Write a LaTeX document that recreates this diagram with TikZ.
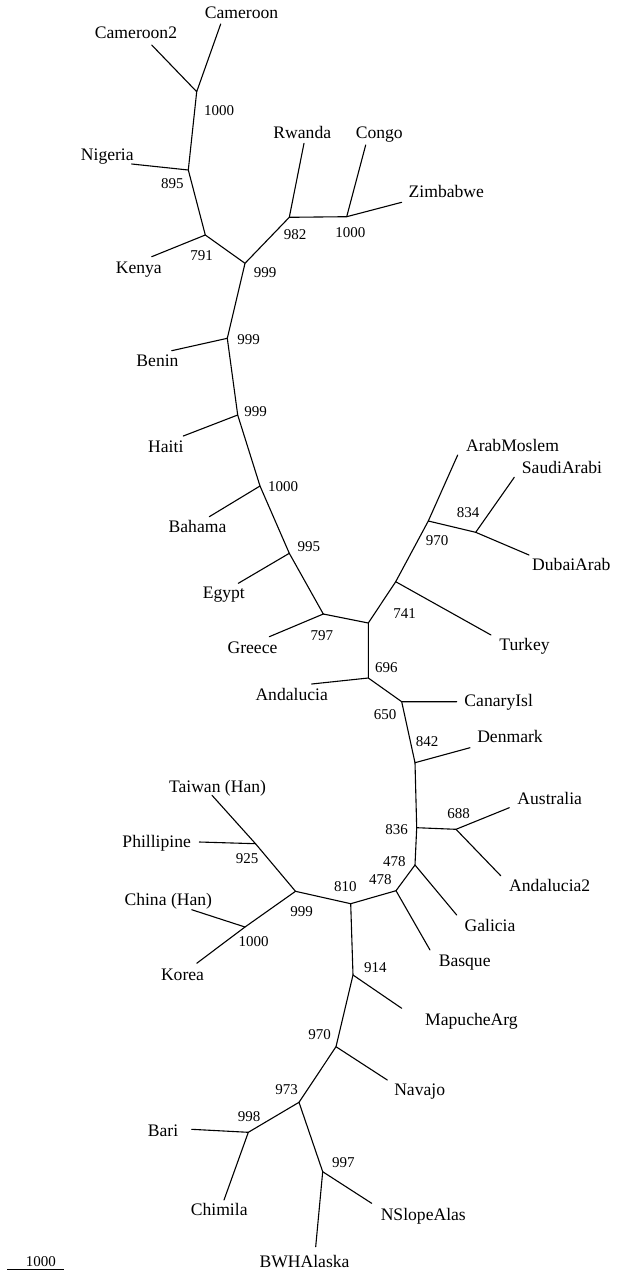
\documentclass[tikz,border=0pt]{standalone}
\usepackage{fontspec}
\setmainfont{Liberation Serif}
\begin{document}
\begin{tikzpicture}[x=1pt,y=-1pt,
  br/.style={line width=1.1pt,line cap=round,line join=round},
  leaf/.style={inner sep=0pt,anchor=base,font=\fontsize{17.6}{20}\selectfont},
  bs/.style={inner sep=0pt,anchor=base,font=\fontsize{15}{17}\selectfont}]
\useasboundingbox (0,0) rectangle (619,1272);
% internal nodes
\coordinate (nCam) at (196.7,91.7);
\coordinate (nNig) at (188.3,170);
\coordinate (nKen) at (205.3,235);
\coordinate (nA) at (245,263.3);
\coordinate (nRw) at (289.3,217.3);
\coordinate (nCo) at (346.7,216.7);
\coordinate (nBen) at (227.3,338.3);
\coordinate (nHai) at (237.7,415);
\coordinate (nBah) at (260,486);
\coordinate (nEgy) at (289.3,553.3);
\coordinate (nGre) at (323.3,614);
\coordinate (nX) at (368.3,623);
\coordinate (n741) at (395.7,581.7);
\coordinate (n970) at (428.3,521);
\coordinate (n834) at (475.7,532.3);
\coordinate (n696) at (368.3,678);
\coordinate (n650) at (401.7,701.7);
\coordinate (n842) at (415,762.7);
\coordinate (n836) at (416.7,827.7);
\coordinate (n688) at (456,829.3);
\coordinate (n478a) at (415,865);
\coordinate (n478b) at (396,890.7);
\coordinate (n810) at (350.7,903.7);
\coordinate (n999b) at (295.5,891.3);
\coordinate (n925) at (255.5,843.7);
\coordinate (n1000c) at (245,927);
\coordinate (n914) at (353,975);
\coordinate (n970b) at (336,1046.7);
\coordinate (n973) at (299,1102.3);
\coordinate (n998) at (248.3,1132.3);
\coordinate (n997) at (322.7,1171.7);
% leaf tips
\coordinate (tCam) at (220.7,24);
\coordinate (tCam2) at (151.7,45);
\coordinate (tNig) at (131.7,164);
\coordinate (tKen) at (151.7,256.7);
\coordinate (tRw) at (304,143.3);
\coordinate (tCo) at (365.7,145);
\coordinate (tZim) at (401.7,202.3);
\coordinate (tBen) at (171.7,350.7);
\coordinate (tHai) at (183.3,436);
\coordinate (tBah) at (209.3,516.7);
\coordinate (tEgy) at (238.3,583.3);
\coordinate (tGre) at (269.3,636.7);
\coordinate (tAM) at (457.7,455);
\coordinate (tSA) at (514.3,477.3);
\coordinate (tDA) at (529,555);
\coordinate (tTur) at (491,635);
\coordinate (tAnd) at (311.7,684);
\coordinate (tCan) at (456.7,701.7);
\coordinate (tDen) at (470,747.7);
\coordinate (tAus) at (509.3,807.7);
\coordinate (tAnd2) at (500.7,875.7);
\coordinate (tGal) at (456.7,915);
\coordinate (tBas) at (430,950);
\coordinate (tTai) at (212,795.3);
\coordinate (tPhi) at (199.3,842);
\coordinate (tChi) at (191.7,909.7);
\coordinate (tKor) at (196.7,963.3);
\coordinate (tMap) at (401.7,1008.3);
\coordinate (tNav) at (387.3,1080);
\coordinate (tBari) at (191.7,1129.3);
\coordinate (tChim) at (224,1200);
\coordinate (tNSA) at (371.7,1203.3);
\coordinate (tBWH) at (315.7,1246.7);
% branches
\draw[br] (tCam) -- (nCam) -- (tCam2);
\draw[br] (nCam) -- (nNig) -- (tNig);
\draw[br] (nNig) -- (nKen) -- (tKen);
\draw[br] (nKen) -- (nA) -- (nRw) -- (tRw);
\draw[br] (nRw) -- (nCo) -- (tCo);
\draw[br] (nCo) -- (tZim);
\draw[br] (nA) -- (nBen) -- (tBen);
\draw[br] (nBen) -- (nHai) -- (tHai);
\draw[br] (nHai) -- (nBah) -- (tBah);
\draw[br] (nBah) -- (nEgy) -- (tEgy);
\draw[br] (nEgy) -- (nGre) -- (tGre);
\draw[br] (nGre) -- (nX) -- (n741) -- (tTur);
\draw[br] (n741) -- (n970) -- (tAM);
\draw[br] (n970) -- (n834) -- (tSA);
\draw[br] (n834) -- (tDA);
\draw[br] (nX) -- (n696) -- (tAnd);
\draw[br] (n696) -- (n650) -- (tCan);
\draw[br] (n650) -- (n842) -- (tDen);
\draw[br] (n842) -- (n836) -- (n688) -- (tAus);
\draw[br] (n688) -- (tAnd2);
\draw[br] (n836) -- (n478a) -- (tGal);
\draw[br] (n478a) -- (n478b) -- (tBas);
\draw[br] (n478b) -- (n810) -- (n999b) -- (n925) -- (tTai);
\draw[br] (n925) -- (tPhi);
\draw[br] (n999b) -- (n1000c) -- (tChi);
\draw[br] (n1000c) -- (tKor);
\draw[br] (n810) -- (n914) -- (tMap);
\draw[br] (n914) -- (n970b) -- (tNav);
\draw[br] (n970b) -- (n973) -- (n998) -- (tBari);
\draw[br] (n998) -- (tChim);
\draw[br] (n973) -- (n997) -- (tNSA);
\draw[br] (n997) -- (tBWH);
% leaf labels
\node[leaf] (lCam) at (241.5,18.5) {Cameroon};
\node[leaf] (lCam2) at (136,38.5) {Cameroon2};
\node[leaf] (lNig) at (107.3,160.7) {Nigeria};
\node[leaf] (lKen) at (138.8,273.3) {Kenya};
\node[leaf] (lRw) at (302.3,138.3) {Rwanda};
\node[leaf] (lCo) at (379.3,138.3) {Congo};
\node[leaf] (lZim) at (446.3,197.7) {Zimbabwe};
\node[leaf] (lBen) at (157.5,366) {Benin};
\node[leaf] (lHai) at (165.8,452.7) {Haiti};
\node[leaf] (lBah) at (197.5,532.3) {Bahama};
\node[leaf] (lEgy) at (223.8,598.3) {Egypt};
\node[leaf] (lGre) at (252.5,653) {Greece};
\node[leaf] (lAM) at (512.5,451.7) {ArabMoslem};
\node[leaf] (lSA) at (562,473.3) {SaudiArabi};
\node[leaf] (lDA) at (571.3,570) {DubaiArab};
\node[leaf] (lTur) at (524.5,650.7) {Turkey};
\node[leaf] (lAnd) at (291.7,700.7) {Andalucia};
\node[leaf] (lCan) at (498.7,706) {CanaryIsl};
\node[leaf] (lDen) at (510,742.7) {Denmark};
\node[leaf] (lAus) at (549.7,804.3) {Australia};
\node[leaf] (lAnd2) at (549.7,891) {Andalucia2};
\node[leaf] (lGal) at (490,931) {Galicia};
\node[leaf] (lBas) at (464.7,966) {Basque};
\node[leaf] (lTai) at (217.5,792.3) {Taiwan (Han)};
\node[leaf] (lPhi) at (156.7,847.7) {Phillipine};
\node[leaf] (lChi) at (168.3,905) {China (Han)};
\node[leaf] (lKor) at (182.5,980) {Korea};
\node[leaf] (lMap) at (471.5,1025) {MapucheArg};
\node[leaf] (lNav) at (419.7,1095) {Navajo};
\node[leaf] (lBari) at (163,1136.7) {Bari};
\node[leaf] (lChim) at (219.2,1215) {Chimila};
\node[leaf] (lNSA) at (423.3,1220.7) {NSlopeAlas};
\node[leaf] (lBWH) at (304.5,1267.7) {BWHAlaska};
% bootstrap values
\node[bs] (bCam) at (219,115) {1000};
\node[bs] (bNig) at (172.3,188.3) {895};
\node[bs] (bKen) at (201.5,260) {791};
\node[bs] (bA) at (265,277.3) {999};
\node[bs] (bRw) at (295,239) {982};
\node[bs] (bCo) at (350.3,237.3) {1000};
\node[bs] (bBen) at (248.5,344.3) {999};
\node[bs] (bHai) at (255.5,416.7) {999};
\node[bs] (bBah) at (283,491.3) {1000};
\node[bs] (bEgy) at (308.8,551) {995};
\node[bs] (bGre) at (321.8,640) {797};
\node[bs] (b834) at (468,517.3) {834};
\node[bs] (b970) at (437,545) {970};
\node[bs] (b741) at (404.7,618.3) {741};
\node[bs] (b696) at (386.3,672.7) {696};
\node[bs] (b650) at (385,719) {650};
\node[bs] (b842) at (427.2,746.7) {842};
\node[bs] (b688) at (458.7,818.3) {688};
\node[bs] (b836) at (396.7,834) {836};
\node[bs] (b478a) at (394.3,866) {478};
\node[bs] (b478b) at (380.3,884.3) {478};
\node[bs] (b810) at (345.3,891.7) {810};
\node[bs] (b999b) at (301.7,916.7) {999};
\node[bs] (b925) at (247,863.3) {925};
\node[bs] (b1000c) at (253.7,946.7) {1000};
\node[bs] (b914) at (375.3,972.3) {914};
\node[bs] (b970b) at (319.5,1039) {970};
\node[bs] (b973) at (286.7,1094) {973};
\node[bs] (b998) at (249,1121) {998};
\node[bs] (b997) at (343.3,1167.3) {997};
% scale bar
\coordinate (sb1) at (7.3,1269.3);
\coordinate (sb2) at (64,1269.3);
\draw[line width=1.1pt] (sb1) -- (sb2);
\node[bs] (sbl) at (40.8,1266.7) {1000};
\end{tikzpicture}
\end{document}
